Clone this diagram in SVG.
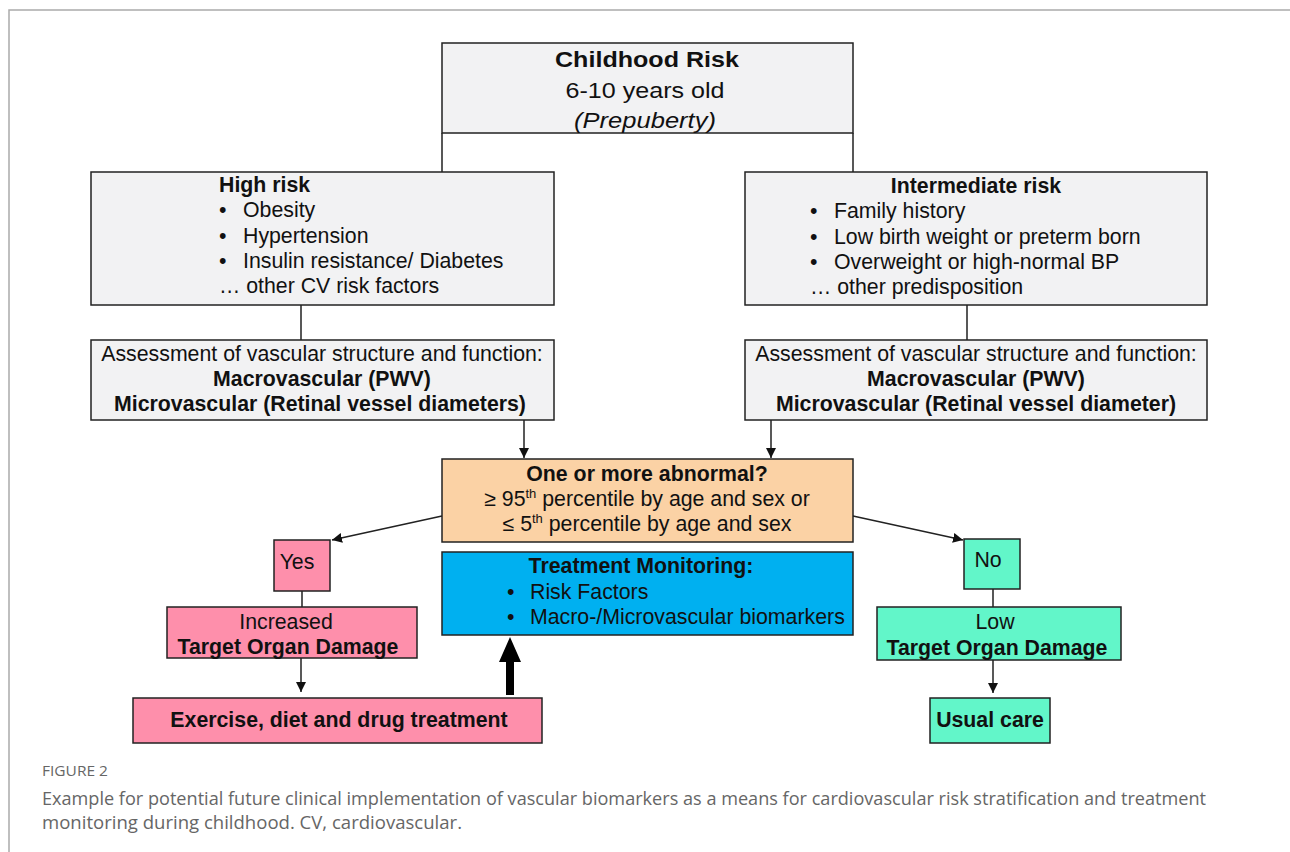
<svg xmlns="http://www.w3.org/2000/svg" width="1290" height="852" viewBox="0 0 1290 852">
<style>
.t{font-family:"Liberation Sans",Arial,sans-serif;font-size:21.3px;fill:#111}
.b{font-weight:bold}
.c{text-anchor:middle}
.box{stroke:#222;stroke-width:1.5}
.gray{fill:#f2f2f3}
.pink{fill:#fe8fab}
.mint{fill:#62f6c9}
.ln{stroke:#222;stroke-width:1.5;fill:none}
.cap{font-family:"Open Sans","Noto Sans",sans-serif;fill:#666}
</style>
<defs>
<marker id="ah" viewBox="0 0 10 10" refX="10" refY="5" markerWidth="10" markerHeight="10" markerUnits="userSpaceOnUse" orient="auto">
<path d="M0,0 L10,5 L0,10 z" fill="#111"/>
</marker>
</defs>
<rect width="1290" height="852" fill="#fff"/>
<path d="M9,852 V10 H1290" stroke="#aaa" stroke-width="1.5" fill="none"/>

<g id="connectors">
<path class="ln" d="M442,133 V172 M853,133 V172"/>
<path class="ln" d="M301,305 V340 M967,305 V340"/>
<path class="ln" d="M524,420 V458" marker-end="url(#ah)"/>
<path class="ln" d="M771,420 V458" marker-end="url(#ah)"/>
<path class="ln" d="M442,516 L332,540" marker-end="url(#ah)"/>
<path class="ln" d="M853,516 L963,540" marker-end="url(#ah)"/>
<path class="ln" d="M302,591 V607 M993,589 V607"/>
<path class="ln" d="M301,658 V692" marker-end="url(#ah)"/>
<path class="ln" d="M993,660 V693" marker-end="url(#ah)"/>
<path d="M506,695 V662 H499 L510,637 L521,662 H514 V695 z" fill="#000"/>
</g>

<g id="childhood">
<rect class="box gray" x="442" y="43" width="411" height="90"/>
<text class="t b c" x="647" y="67" font-size="26" textLength="184" lengthAdjust="spacingAndGlyphs">Childhood Risk</text>
<text class="t c" x="645" y="98" font-size="26" textLength="159" lengthAdjust="spacingAndGlyphs">6-10 years old</text>
<text class="t c" x="645" y="128" font-size="26" font-style="italic" textLength="142" lengthAdjust="spacingAndGlyphs">(Prepuberty)</text>
</g>

<g id="high-risk">
<rect class="box gray" x="91" y="172" width="463" height="133"/>
<text class="t b" x="219" y="192">High risk</text>
<text class="t" x="219" y="217">•</text><text class="t" x="243" y="217">Obesity</text>
<text class="t" x="219" y="243">•</text><text class="t" x="243" y="243">Hypertension</text>
<text class="t" x="219" y="268">•</text><text class="t" x="243" y="268">Insulin resistance/ Diabetes</text>
<text class="t" x="219" y="293">… other CV risk factors</text>
</g>

<g id="intermediate-risk">
<rect class="box gray" x="745" y="172" width="462" height="133"/>
<text class="t b c" x="976" y="193">Intermediate risk</text>
<text class="t" x="810" y="218">•</text><text class="t" x="834" y="218">Family history</text>
<text class="t" x="810" y="244">•</text><text class="t" x="834" y="244">Low birth weight or preterm born</text>
<text class="t" x="810" y="269">•</text><text class="t" x="834" y="269">Overweight or high-normal BP</text>
<text class="t" x="810" y="294">… other predisposition</text>
</g>

<g id="assess-left">
<rect class="box gray" x="91" y="340" width="463" height="80"/>
<text class="t c" x="322" y="361">Assessment of vascular structure and function:</text>
<text class="t b c" x="322" y="386">Macrovascular (PWV)</text>
<text class="t b c" x="320" y="411">Microvascular (Retinal vessel diameters)</text>
</g>

<g id="assess-right">
<rect class="box gray" x="745" y="340" width="462" height="80"/>
<text class="t c" x="976" y="361">Assessment of vascular structure and function:</text>
<text class="t b c" x="976" y="386">Macrovascular (PWV)</text>
<text class="t b c" x="976" y="411">Microvascular (Retinal vessel diameter)</text>
</g>

<g id="abnormal">
<rect class="box" x="442" y="459" width="411" height="83" fill="#fbd2a5"/>
<text class="t b c" x="647" y="481">One or more abnormal?</text>
<text class="t c" x="647" y="506">≥ 95<tspan font-size="13" dy="-8">th</tspan><tspan dy="8"> percentile by age and sex or</tspan></text>
<text class="t c" x="647" y="531">≤ 5<tspan font-size="13" dy="-8">th</tspan><tspan dy="8"> percentile by age and sex</tspan></text>
</g>

<g id="monitoring">
<rect class="box" x="442" y="552" width="411" height="83" fill="#00b0f0"/>
<text class="t b c" x="641" y="573">Treatment Monitoring:</text>
<text class="t" x="507" y="599">•</text><text class="t" x="530" y="599">Risk Factors</text>
<text class="t" x="507" y="624">•</text><text class="t" x="530" y="624">Macro-/Microvascular biomarkers</text>
</g>

<g id="yes">
<rect class="box pink" x="274" y="540" width="56" height="51"/>
<text class="t c" x="297" y="569">Yes</text>
</g>

<g id="increased">
<rect class="box pink" x="167" y="607" width="250" height="51"/>
<text class="t c" x="286" y="629">Increased</text>
<text class="t b c" x="288" y="654">Target Organ Damage</text>
</g>

<g id="treatment">
<rect class="box pink" x="133" y="698" width="409" height="45"/>
<text class="t b c" x="339" y="727" font-size="22.5">Exercise, diet and drug treatment</text>
</g>

<g id="no">
<rect class="box mint" x="964" y="539" width="56" height="50"/>
<text class="t c" x="988" y="567">No</text>
</g>

<g id="low">
<rect class="box mint" x="877" y="607" width="244" height="53"/>
<text class="t c" x="995" y="629">Low</text>
<text class="t b c" x="997" y="655">Target Organ Damage</text>
</g>

<g id="usual">
<rect class="box mint" x="930" y="698" width="120" height="45"/>
<text class="t b c" x="990" y="727" font-size="22.5">Usual care</text>
</g>

<text class="cap" x="42" y="776" font-size="14" textLength="66" lengthAdjust="spacingAndGlyphs">FIGURE 2</text>
<text class="cap" x="42" y="805" font-size="18" textLength="1164" lengthAdjust="spacingAndGlyphs">Example for potential future clinical implementation of vascular biomarkers as a means for cardiovascular risk stratification and treatment</text>
<text class="cap" x="42" y="829" font-size="18" textLength="420" lengthAdjust="spacingAndGlyphs">monitoring during childhood. CV, cardiovascular.</text>
</svg>
